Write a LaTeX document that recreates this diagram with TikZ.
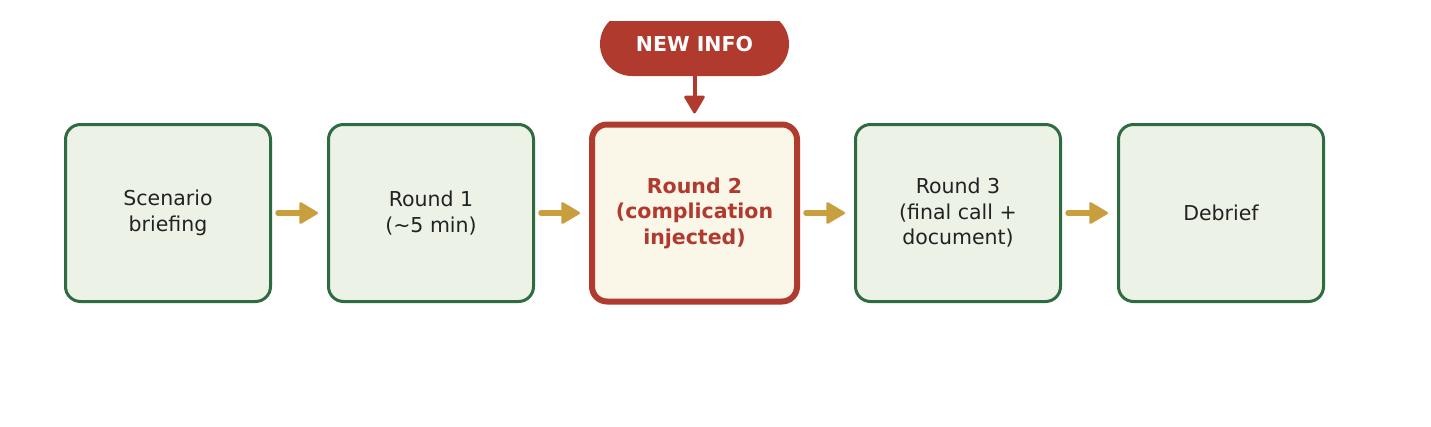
\documentclass[tikz,border=0pt]{standalone}
\usepackage{fontspec}
\setmainfont{DejaVu Sans}
\usepackage{xcolor}
\usetikzlibrary{arrows.meta}

\definecolor{stageline}{HTML}{2E6B40}
\definecolor{stagefill}{HTML}{EDF2E7}
\definecolor{hotline}{HTML}{B03A2E}
\definecolor{hotfill}{HTML}{FAF6E8}
\definecolor{flowgold}{HTML}{C99E3C}
\definecolor{inktext}{HTML}{222222}

\begin{document}
\begin{tikzpicture}[x=1pt,y=-1pt,
  stage/.style={draw=stageline,fill=stagefill,line width=3pt,rounded corners=15pt,
    minimum width=205pt,minimum height=177pt,align=center,text=inktext,
    font=\fontsize{20.5}{25.5}\selectfont},
  hot/.style={stage,draw=hotline,fill=hotfill,line width=6pt,text=hotline,
    font=\fontsize{20.5}{25.5}\selectfont\bfseries},
  pill/.style={fill=hotline,rounded corners=31.9pt,minimum width=189pt,minimum height=64pt,
    text=white,font=\fontsize{20.5}{25.5}\selectfont\bfseries},
  flow/.style={-{Triangle[length=20pt,width=23pt,round,line width=2.5pt]},line width=5.5pt,
    line cap=round,flowgold,shorten <=6pt,shorten >=9pt},
  drop/.style={-{Triangle[length=19pt,width=22pt,round,line width=2.5pt]},line width=4pt,
    hotline,shorten >=8pt}]
  \useasboundingbox (0,0) rectangle (1431,426);

  % stages
  \node[stage] (brief) at (168,213)   {Scenario\\briefing};
  \node[stage] (one)   at (431,213)   {Round 1\\(\textasciitilde5 min)};
  \node[hot]   (two)   at (694.5,213) {Round 2\\(complication\\injected)};
  \node[stage] (three) at (958,213)   {Round 3\\(final call +\\document)};
  \node[stage] (deb)   at (1221,213)  {Debrief};

  % new info, cut off at the top
  \begin{scope}
    \clip (0,21) rectangle (1431,426);
    \node[pill] (info) at (694.5,44) {NEW INFO};
  \end{scope}

  % arrows
  \draw[flow] (brief) -- (one);
  \draw[flow] (one) -- (two);
  \draw[flow] (two) -- (three);
  \draw[flow] (three) -- (deb);
  \draw[drop] (info) -- (two);
\end{tikzpicture}
\end{document}
